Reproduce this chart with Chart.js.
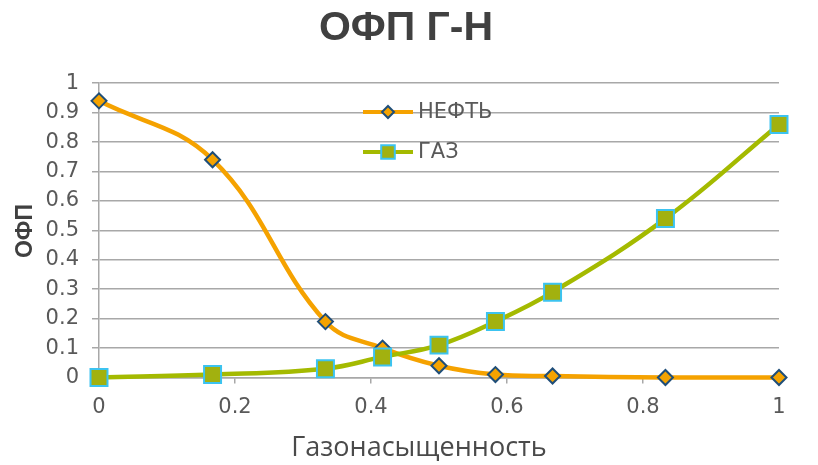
<!DOCTYPE html>
<html>
<head>
<meta charset="utf-8">
<script src="https://cdn.jsdelivr.net/npm/chart.js@4/dist/chart.umd.min.js"></script>
<style>
  html, body { margin: 0; padding: 0; background: #ffffff; }
  canvas { display: block; }
</style>
</head>
<body>
<canvas id="chart" width="818" height="465"></canvas>
<script>
// Relative permeability, gas-oil system
const saturation = [0, 0.167, 0.333, 0.417, 0.5, 0.583, 0.667, 0.833, 1];
const oilPerm    = [0.94, 0.74, 0.19, 0.10, 0.04, 0.01, 0.005, 0, 0];
const gasPerm    = [0, 0.01, 0.03, 0.07, 0.11, 0.19, 0.29, 0.54, 0.86];
const xTicks = [0, 0.2, 0.4, 0.6, 0.8, 1];
const yTicks = [0, 0.1, 0.2, 0.3, 0.4, 0.5, 0.6, 0.7, 0.8, 0.9, 1];
const seriesNames = ['НЕФТЬ', 'ГАЗ'];
const chartTitle = 'ОФП Г-Н';
const xTitle = 'Газонасыщенность';
const yTitle = 'ОФП';

const GRID = '#a8a8a8';
const TEXT = '#595959';
const TICK_FONT = { family: "'DejaVu Sans', 'Liberation Sans', sans-serif", size: 21 };

const toPoints = (ys) => saturation.map((x, i) => ({ x: x, y: ys[i] }));
const fmt = (v) => String(Math.round(v * 10) / 10);

function markerPath(ctx, style, r, x, y) {
  ctx.beginPath();
  if (style === 'rectRot') {
    ctx.moveTo(x, y - r); ctx.lineTo(x + r, y); ctx.lineTo(x, y + r); ctx.lineTo(x - r, y);
  } else {
    const h = r * Math.SQRT1_2;
    ctx.rect(x - h, y - h, 2 * h, 2 * h);
  }
  ctx.closePath();
}

// Legend drawn inside the plot area: line sample with marker, then the name
const insideLegend = {
  id: 'insideLegend',
  afterDatasetsDraw(chart, args, opts) {
    const ctx = chart.ctx;
    ctx.save();
    chart.data.datasets.forEach((ds, i) => {
      const y = opts.top + i * opts.rowGap;
      const x0 = opts.left, x1 = opts.left + opts.lineLength, xm = (x0 + x1) / 2;
      ctx.strokeStyle = ds.borderColor;
      ctx.lineWidth = opts.lineWidth;
      ctx.beginPath(); ctx.moveTo(x0, y); ctx.lineTo(x1, y); ctx.stroke();
      markerPath(ctx, ds.pointStyle, ds.pointRadius * opts.markerScale, xm, y);
      ctx.fillStyle = ds.pointBackgroundColor; ctx.fill();
      ctx.lineWidth = ds.pointBorderWidth; ctx.strokeStyle = ds.pointBorderColor; ctx.stroke();
      ctx.fillStyle = opts.color;
      ctx.font = opts.font;
      ctx.textAlign = 'left'; ctx.textBaseline = 'middle';
      ctx.fillText(ds.label, x1 + opts.textGap, y + 1);
    });
    ctx.restore();
  }
};

// Axis captions
const axisCaptions = {
  id: 'axisCaptions',
  afterDraw(chart, args, opts) {
    const ctx = chart.ctx;
    ctx.save();
    ctx.textAlign = 'center'; ctx.textBaseline = 'middle';
    ctx.fillStyle = opts.xColor; ctx.font = opts.xFont;
    ctx.fillText(xTitle, opts.xCenter, opts.xMiddle);
    ctx.translate(opts.yCenter, opts.yMiddle);
    ctx.rotate(-Math.PI / 2);
    ctx.fillStyle = opts.yColor; ctx.font = opts.yFont;
    ctx.fillText(yTitle, 0, 0);
    ctx.restore();
  }
};

new Chart(document.getElementById('chart'), {
  type: 'line',
  data: {
    datasets: [
      {
        label: seriesNames[0],
        data: toPoints(oilPerm),
        borderColor: '#f5a200',
        borderWidth: 4.5,
        tension: 0.4,
        pointStyle: 'rectRot',
        pointRadius: 7.5,
        pointBackgroundColor: '#f5a300',
        pointBorderColor: '#1f4e79',
        pointBorderWidth: 2,
        clip: false,
        order: 1
      },
      {
        label: seriesNames[1],
        data: toPoints(gasPerm),
        borderColor: '#a4ba00',
        borderWidth: 4.5,
        tension: 0.4,
        pointStyle: 'rect',
        pointRadius: 12,
        pointBackgroundColor: '#a2b10f',
        pointBorderColor: '#3cc3f0',
        pointBorderWidth: 2,
        clip: false,
        order: 0
      }
    ]
  },
  options: {
    responsive: false,
    animation: false,
    devicePixelRatio: 1,
    layout: { padding: { left: 33, right: 39, top: 0, bottom: 0 } },
    scales: {
      x: {
        type: 'linear',
        min: 0, max: 1,
        afterFit(scale) { scale.height = 87.5; },
        afterBuildTicks(scale) { scale.ticks = xTicks.map(v => ({ value: v })); },
        grid: { drawOnChartArea: false, drawTicks: true, tickLength: 6, color: GRID, lineWidth: 1.5 },
        border: { display: true, color: GRID, width: 1.5 },
        ticks: {
          padding: 11,
          color: TEXT,
          font: TICK_FONT,
          callback: (v) => fmt(v),
          maxRotation: 0
        }
      },
      y: {
        min: 0, max: 1,
        afterFit(scale) { scale.width = 66; },
        afterBuildTicks(scale) { scale.ticks = yTicks.map(v => ({ value: v })); },
        grid: { drawTicks: true, tickLength: 7, color: GRID, lineWidth: 1.5 },
        border: { display: true, color: GRID, width: 1.5 },
        ticks: {
          padding: 13,
          color: TEXT,
          font: TICK_FONT,
          callback: (v) => fmt(v)
        }
      }
    },
    plugins: {
      legend: { display: false },
      tooltip: { enabled: false },
      title: {
        display: true,
        text: chartTitle,
        color: '#404040',
        font: { family: "'Liberation Sans', Arial, sans-serif", size: 41, weight: 'bold' },
        padding: { top: 4, bottom: 30 }
      },
      insideLegend: {
        left: 363, top: 112, rowGap: 40, lineLength: 50, textGap: 5,
        markerScale: 0.8, lineWidth: 4,
        color: TEXT, font: "21px 'DejaVu Sans', 'Liberation Sans', sans-serif"
      },
      axisCaptions: {
        xCenter: 419, xMiddle: 448, xColor: '#4a4a4a',
        xFont: "27px 'Open Sans', 'Liberation Sans', sans-serif",
        yCenter: 26, yMiddle: 231, yColor: '#404040',
        yFont: "bold 23px 'Liberation Sans', Arial, sans-serif"
      }
    }
  },
  plugins: [insideLegend, axisCaptions]
});
</script>
</body>
</html>
